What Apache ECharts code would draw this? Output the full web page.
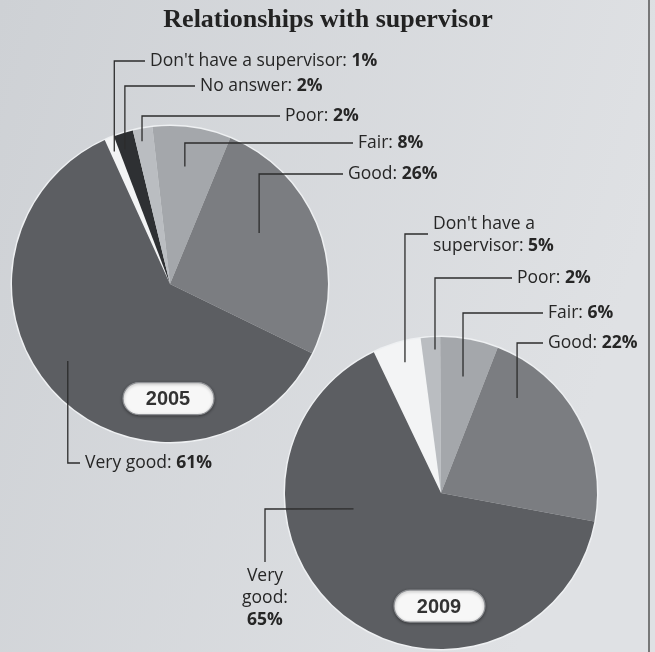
<!DOCTYPE html>
<html>
<head>
<meta charset="utf-8">
<title>Relationships with supervisor</title>
<script src="https://cdn.jsdelivr.net/npm/echarts@6/dist/echarts.min.js"></script>
<style>
  html, body { margin: 0; padding: 0; }
  #chart { width: 655px; height: 652px; }
</style>
</head>
<body>
<div id="chart"></div>
<script>
// Survey answers, 2005 and 2009 (percent of respondents)
const chartTitle = 'Relationships with supervisor';
const years = ['2005', '2009'];
const categories2005 = ["Don't have a supervisor", 'No answer', 'Poor', 'Fair', 'Good', 'Very good'];
const values2005 = [1, 2, 2, 8, 26, 61];
const categories2009 = ["Don't have a supervisor", 'Poor', 'Fair', 'Good', 'Very good'];
const values2009 = [5, 2, 6, 22, 65];

// Grey shade for each answer
const shades = {
  "Don't have a supervisor": '#f3f4f5',
  'No answer': '#2e3033',
  'Poor': '#babdc1',
  'Fair': '#a4a7ab',
  'Good': '#7b7d81',
  'Very good': '#5c5e62'
};

// Label prefixes for the narrower 2009 callouts
const wrap2009 = {
  "Don't have a supervisor": "Don't have a\nsupervisor: ",
  'Very good': 'Very\ngood:\n'
};

// Pie geometry and callout placement (anchor = [angle clockwise from 12 o'clock, radius fraction])
const layouts = [
  {
    center: [170, 284], radius: 158, startAngle: 114.4,
    callouts: [
      { x: 150, y: 61, anchor: [-22.8, 0.91] },
      { x: 200, y: 86, anchor: [-18.5, 0.90] },
      { x: 285, y: 116, anchor: [-11.1, 0.92] },
      { x: 358, y: 143, anchor: [7.2, 0.75] },
      { x: 348, y: 174, anchor: [60.2, 0.65] },
      { x: 85, y: 463, anchor: [233, 0.81] }
    ]
  },
  {
    center: [441, 493], radius: 156, startAngle: 115.5,
    callouts: [
      { x: 433, y: 213, lineY: 234, va: 'top', anchor: [-15.4, 0.87] },
      { x: 517, y: 278, anchor: [-2.4, 0.92] },
      { x: 548, y: 313, anchor: [10.7, 0.76] },
      { x: 548, y: 343, anchor: [38.7, 0.78] },
      { x: 265, y: 565, lineY: 509, align: 'center', va: 'top', turn: 'hv', anchor: [259.7, 0.57] }
    ]
  }
];

const labelFont = '"Open Sans", "Noto Sans", sans-serif';
const labelSize = 17.5;

function anchorPoint(lay, a) {
  const rad = a[0] * Math.PI / 180;
  return [
    lay.center[0] + a[1] * lay.radius * Math.sin(rad),
    lay.center[1] - a[1] * lay.radius * Math.cos(rad)
  ];
}

// Elbow leader from inside a slice to its label
function leaderPoints(lay, c) {
  const p = anchorPoint(lay, c.anchor);
  if (c.turn === 'hv') {
    return [p, [c.x, c.lineY], [c.x, c.y - 3]];
  }
  const ly = c.lineY != null ? c.lineY : c.y;
  return [p, [p[0], ly], [c.x - 5, ly]];
}

function calloutLayout(lay) {
  return function (params) {
    const c = lay.callouts[params.dataIndex];
    return {
      x: c.x,
      y: c.y,
      align: c.align || 'left',
      verticalAlign: c.va || 'middle'
    };
  };
}

function pieSeries(idx, cats, vals, wrap) {
  const lay = layouts[idx];
  return {
    type: 'pie',
    name: years[idx],
    center: lay.center,
    radius: [0, lay.radius],
    startAngle: lay.startAngle,
    clockwise: true,
    avoidLabelOverlap: false,
    animation: false,
    silent: true,
    z: 3,
    data: cats.map((c, i) => ({
      name: c,
      value: vals[i],
      itemStyle: { color: shades[c] }
    })),
    itemStyle: { borderWidth: 0 },
    label: {
      show: true,
      position: 'outside',
      fontFamily: labelFont,
      fontSize: labelSize,
      color: '#262626',
      lineHeight: 22,
      formatter: function (p) {
        const prefix = wrap && wrap[p.name] ? wrap[p.name] : p.name + ': ';
        const lines = prefix.split('\n');
        const last = lines.pop();
        const head = lines.map(l => '{n|' + l + '}').join('\n');
        return (head ? head + '\n' : '') + (last ? '{n|' + last + '}' : '') + '{b|' + p.value + '%}';
      },
      rich: {
        n: { fontFamily: labelFont, fontSize: labelSize, color: '#262626', lineHeight: 22 },
        b: { fontFamily: labelFont, fontSize: labelSize, fontWeight: 'bold', color: '#262626', lineHeight: 22 }
      }
    },
    labelLine: { show: false },
    labelLayout: calloutLayout(lay)
  };
}

const chart = echarts.init(document.getElementById('chart'), null, { renderer: 'canvas' });

// Leader lines, light rims and year badges
const decorations = [];
layouts.forEach((lay, i) => {
  decorations.push({
    type: 'circle',
    silent: true,
    z: 1,
    shape: { cx: lay.center[0], cy: lay.center[1], r: lay.radius + 1.5 },
    style: { fill: '#eef0f2' }
  });
  lay.callouts.forEach(c => {
    decorations.push({
      type: 'polyline',
      silent: true,
      z: 50,
      shape: { points: leaderPoints(lay, c) },
      style: { stroke: '#2c2c2c', lineWidth: 1.3, fill: null }
    });
  });
  const cx = lay.center[0] - 2;
  const cy = lay.center[1] + 0.725 * lay.radius;
  decorations.push({
    type: 'rect',
    silent: true,
    z: 60,
    shape: { x: cx - 45, y: cy - 16, width: 91, height: 32, r: 16 },
    style: {
      fill: '#f7f7f7', stroke: '#8e9094', lineWidth: 1.2,
      shadowBlur: 3, shadowColor: 'rgba(0,0,0,0.35)', shadowOffsetY: 1
    }
  });
  decorations.push({
    type: 'text',
    silent: true,
    z: 61,
    x: cx, y: cy + 1,
    style: {
      text: years[i],
      font: 'bold 20px "Liberation Sans", Arial, sans-serif',
      fill: '#333',
      align: 'center',
      verticalAlign: 'middle'
    }
  });
});
decorations.push({
  type: 'line',
  silent: true,
  z: 1,
  shape: { x1: 649, y1: 0, x2: 649, y2: 652 },
  style: { stroke: '#555', lineWidth: 1.5 }
});

chart.setOption({
  backgroundColor: {
    type: 'linear', x: 0, y: 0, x2: 1, y2: 0.3,
    colorStops: [
      { offset: 0, color: '#ced1d5' },
      { offset: 1, color: '#dfe1e4' }
    ]
  },
  title: {
    text: chartTitle,
    left: 323,
    top: 2,
    textAlign: 'center',
    textStyle: {
      fontFamily: '"Liberation Serif", "DejaVu Serif", serif',
      fontWeight: 'bold',
      fontSize: 26,
      color: '#222'
    }
  },
  graphic: decorations,
  series: [
    pieSeries(0, categories2005, values2005, null),
    pieSeries(1, categories2009, values2009, wrap2009)
  ]
});
</script>
</body>
</html>
